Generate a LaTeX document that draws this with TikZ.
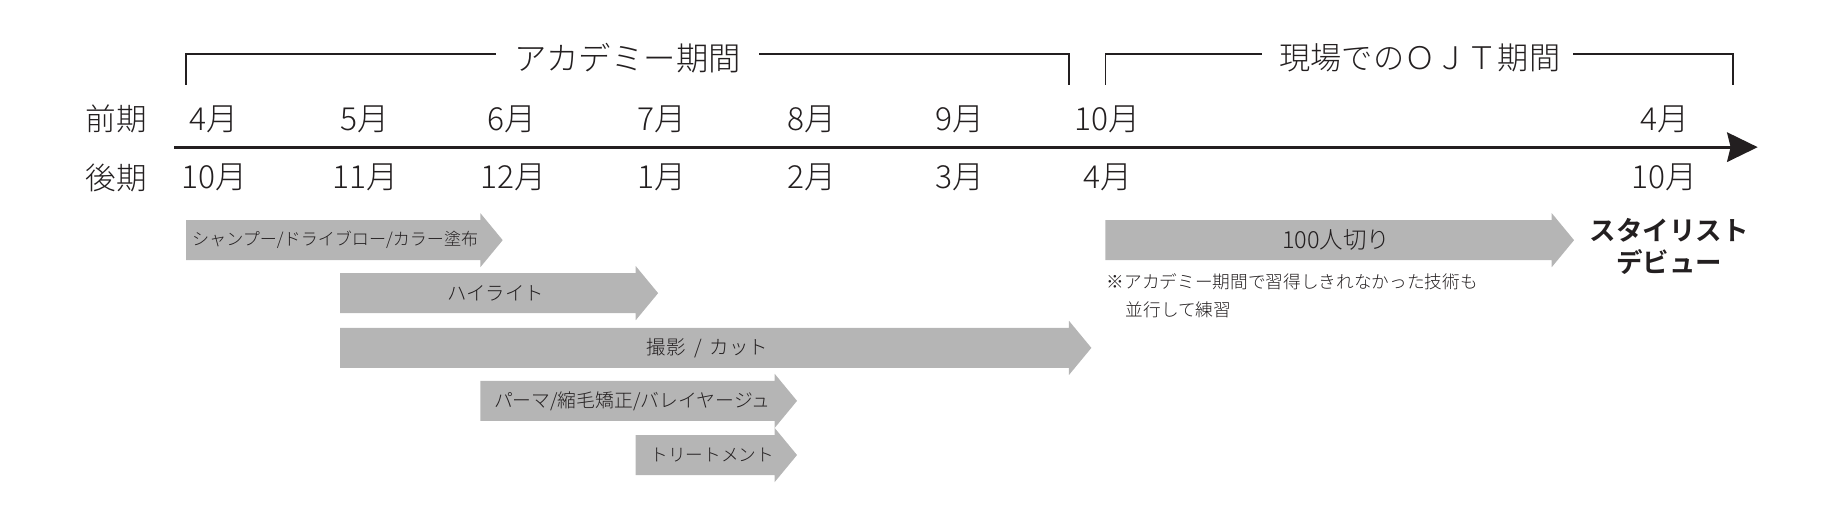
\documentclass[tikz,border=0pt]{standalone}
\usepackage{fontspec}
\setmainfont{Noto Sans CJK JP}[UprightFont=* Light, BoldFont=* Bold]
\usetikzlibrary{arrows.meta}
\definecolor{ink}{HTML}{231F20}
\definecolor{barg}{HTML}{B5B5B5}
\tikzset{
  month/.style={text=ink, font=\fontsize{27}{30}\selectfont, inner sep=0pt},
  rowlab/.style={text=ink, font=\fontsize{26}{29}\selectfont, inner sep=0pt},
  head/.style={text=ink, font=\fontsize{27.5}{31}\selectfont, inner sep=0pt},
  bracket/.style={draw=ink, line width=1.2pt},
  axis/.style={draw=ink, line width=2.6pt, -{Stealth[length=26pt, width=25pt, inset=3pt]}},
  bartext/.style={text=ink, font=\fontsize{14.5}{17}\selectfont, inner sep=0pt},
  barfill/.style={fill=barg},
  note/.style={text=ink, font=\fontsize{15}{24}\selectfont, inner sep=0pt, align=left},
  debut/.style={text=ink, font=\bfseries\fontsize{22.5}{27}\selectfont, inner sep=0pt, align=center}
}
% #1 left x, #2 shaft end x, #3 centre y
\newcommand\grayarrow[3]{%
  \fill[barfill] (#1,#3-17) -- (#2,#3-17) -- (#2,#3-23) -- (#2+19,#3) --
    (#2,#3+23) -- (#2,#3+17) -- (#1,#3+17) -- cycle;}
\begin{document}
\begin{tikzpicture}[x=1pt, y=-1pt]
\useasboundingbox (0,0) rectangle (1568,438);

% headers with brackets
\node[head] (acad) at (533,49) {アカデミー期間};
\node[head, font=\fontsize{26.5}{30}\selectfont] (ojt) at (1206,49) {現場でのＯＪＴ期間};
\coordinate (aL) at (158,72);
\coordinate (aR) at (908,72);
\coordinate (oL) at (939,72);
\coordinate (oR) at (1472,72);
\draw[bracket] (aL) |- ([xshift=-15pt,yshift=3pt]acad.west);
\draw[bracket] (aR) |- ([xshift=15pt,yshift=3pt]acad.east);
\draw[bracket] (oL) |- ([xshift=-15pt,yshift=3pt]ojt.west);
\draw[bracket] (oR) |- ([xshift=11pt,yshift=3pt]ojt.east);

% row labels
\node[rowlab] (zenki) at (99,101) {前期};
\node[rowlab] (kouki) at (99,151) {後期};

% axis
\coordinate (axS) at (148,125);
\coordinate (axE) at (1493,125);
\draw[axis] (axS) -- (axE);

% top months
\node[month] (m1) at (182,101) {4月};
\node[month] (m2) at (310,101) {5月};
\node[month] (m3) at (435,101) {6月};
\node[month] (m4) at (562,101) {7月};
\node[month] (m5) at (690,101) {8月};
\node[month] (m6) at (815,101) {9月};
\node[month] (m7) at (941,101) {10月};
\node[month] (m8) at (1414,101) {4月};
% bottom months
\node[month] (n1) at (182,151) {10月};
\node[month] (n2) at (310,151) {11月};
\node[month] (n3) at (436,151) {12月};
\node[month] (n4) at (562,151) {1月};
\node[month] (n5) at (690,151) {2月};
\node[month] (n6) at (815,151) {3月};
\node[month] (n7) at (941,151) {4月};
\node[month] (n8) at (1414,151) {10月};

% bars
\grayarrow{158}{408}{204}
\node[bartext, anchor=west] (b1) at (163,204) {シャンプー/ドライブロー/カラー塗布};
\grayarrow{289}{540}{249}
\node[bartext, font=\fontsize{16.5}{19}\selectfont] (b2) at (421,249) {ハイライト};
\grayarrow{289}{908}{295.5}
\node[bartext, font=\fontsize{16.5}{19}\selectfont] (b3) at (601,295.5) {撮影\hspace{7pt}/\hspace{7pt}カット};
\grayarrow{408}{658}{340.5}
\node[bartext, font=\fontsize{16}{19}\selectfont] (b4) at (537,340.5) {パーマ/縮毛矯正/バレイヤージュ};
\grayarrow{540}{658}{386.5}
\node[bartext, font=\fontsize{15}{18}\selectfont] (b5) at (605,386.5) {トリートメント};
\grayarrow{939}{1318}{204}
\node[bartext, font=\fontsize{20}{23}\selectfont] (b6) at (1135,204) {100人切り};

% debut
\node[debut] (deb) at (1418,209) {スタイリスト\\デビュー};

% note
\node[note, anchor=north west] (nt) at (940,232) {※アカデミー期間で習得しきれなかった技術も\\\hspace*{16pt}並行して練習};
\end{tikzpicture}
\end{document}
